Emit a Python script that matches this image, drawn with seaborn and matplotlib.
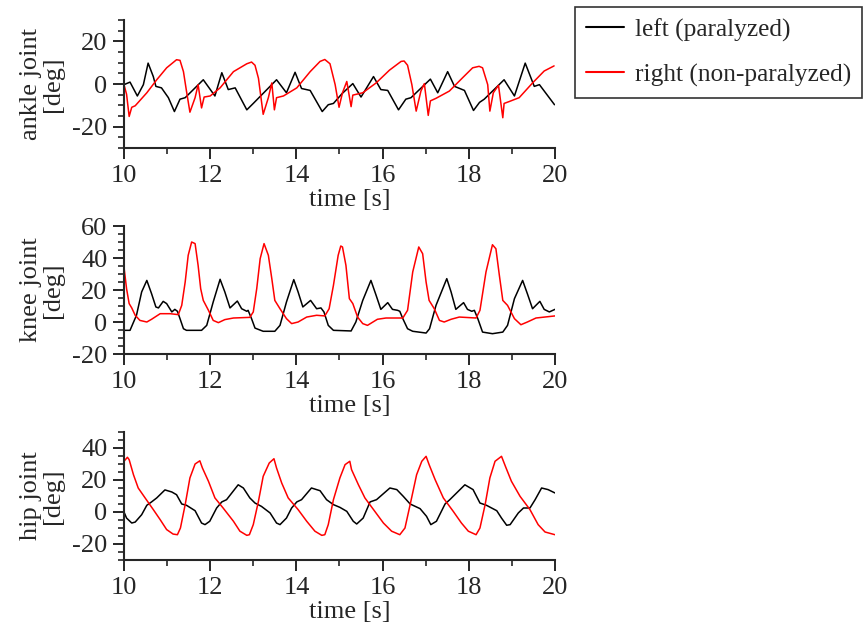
import pandas as pd
import seaborn as sns
import matplotlib.pyplot as plt
from matplotlib.ticker import MultipleLocator

# ankle joint [deg]
ankle_left_t = [10.00, 10.14, 10.31, 10.45, 10.56, 10.68, 10.74, 10.87, 11.03, 11.17, 11.30, 11.42,
                11.84, 12.11, 12.27, 12.42, 12.58, 12.85, 13.00, 13.54, 13.77, 13.97, 14.12, 14.32,
                14.60, 14.74, 14.86, 15.06, 15.31, 15.50, 15.79, 15.96, 16.12, 16.37, 16.54, 16.66,
                17.11, 17.28, 17.51, 17.67, 17.90, 18.11, 18.25, 18.36, 18.82, 19.06, 19.31, 19.52,
                19.64, 19.99]
ankle_left = [-0.3, 0.9, -5.6, -0.3, 9.8, 3.5, -1.1, -1.8, -6.4, -12.9, -7.1, -6.4,
              2.0, -5.6, 5.3, -2.6, -1.8, -12.1, -9.1, 2.0, -4.1, 5.5, -2.1, -3.0,
              -12.9, -9.7, -9.1, -4.5, 0.2, -6.1, 3.5, -2.6, -3.0, -12.1, -7.1, -6.4,
              2.3, -4.1, 5.8, -1.1, -3.0, -12.4, -8.6, -7.1, 2.0, -5.6, 9.8, -1.1,
              -0.3, -9.7]
ankle_right_t = [10.00, 10.06, 10.12, 10.18, 10.26, 10.53, 10.76, 10.99, 11.22, 11.30, 11.38, 11.45,
                 11.53, 11.65, 11.72, 11.80, 11.86, 12.00, 12.23, 12.54, 12.85, 12.96, 13.04, 13.12,
                 13.23, 13.35, 13.43, 13.49, 13.54, 13.70, 14.01, 14.32, 14.55, 14.66, 14.78, 14.90,
                 14.99, 15.07, 15.17, 15.27, 15.31, 15.54, 15.85, 16.16, 16.43, 16.50, 16.58, 16.68,
                 16.78, 16.89, 16.97, 17.06, 17.11, 17.24, 17.55, 17.86, 18.09, 18.24, 18.32, 18.44,
                 18.49, 18.57, 18.69, 18.79, 18.82, 18.94, 19.17, 19.48, 19.75, 19.98]
ankle_right = [-0.3, -4.8, -15.2, -10.9, -10.2, -4.1, 2.0, 7.6, 11.4, 11.1, 5.8, -3.3,
               -13.2, -6.4, -0.3, -11.2, -6.1, -5.6, -1.8, 5.8, 9.5, 10.3, 8.8, 2.7,
               -14.2, -6.4, 0.5, -12.1, -6.4, -5.6, -1.8, 5.8, 10.6, 11.5, 9.5, -0.3,
               -10.9, -4.1, 1.2, -10.6, -5.2, -4.1, 0.5, 6.5, 10.6, 10.8, 8.8, -0.3,
               -12.7, -3.3, 0.2, -14.7, -7.9, -6.7, -3.3, 3.0, 7.6, 8.3, 7.6, -0.3,
               -12.7, -4.1, -0.6, -15.8, -9.1, -8.2, -6.4, 0.5, 6.1, 8.5]

# knee joint [deg]
knee_left_t = [10.00, 10.14, 10.29, 10.41, 10.53, 10.64, 10.74, 10.80, 10.91, 10.99, 11.11, 11.18,
               11.24, 11.30, 11.38, 11.45, 11.80, 11.92, 12.07, 12.23, 12.34, 12.46, 12.63, 12.73,
               12.85, 12.88, 12.96, 13.04, 13.23, 13.50, 13.62, 13.77, 13.94, 14.04, 14.15, 14.33,
               14.47, 14.57, 14.64, 14.74, 14.86, 15.27, 15.38, 15.54, 15.73, 15.85, 15.96, 16.12,
               16.23, 16.35, 16.40, 16.47, 16.58, 16.70, 17.01, 17.09, 17.24, 17.49, 17.59, 17.70,
               17.88, 17.97, 18.07, 18.13, 18.21, 18.32, 18.55, 18.79, 18.90, 19.06, 19.25, 19.36,
               19.48, 19.65, 19.75, 19.87, 20.00]
knee_left = [-5.2, -5.2, 4.2, 18.8, 26.0, 17.7, 9.4, 8.8, 12.9, 11.5, 6.3, 7.9,
             6.7, 2.1, -4.2, -5.2, -5.2, -2.1, 12.5, 26.7, 18.8, 8.8, 13.1, 8.3,
             6.7, 7.3, 2.1, -3.8, -5.8, -5.8, -2.1, 12.5, 26.5, 18.8, 9.4, 13.5,
             8.3, 8.8, 6.3, -2.1, -5.2, -5.6, 0.0, 13.5, 26.0, 16.7, 7.9, 12.1,
             7.9, 7.3, 6.7, 2.1, -4.2, -5.8, -6.9, -4.2, 10.4, 27.1, 18.8, 7.9,
             12.1, 7.9, 6.7, 7.3, 2.1, -6.3, -7.3, -6.3, -2.1, 14.6, 26.0, 17.7,
             8.3, 12.9, 7.9, 6.3, 7.9]
knee_right_t = [10.00, 10.06, 10.12, 10.18, 10.26, 10.37, 10.53, 10.64, 10.84, 11.07, 11.26, 11.34,
                11.42, 11.49, 11.57, 11.65, 11.72, 11.78, 11.84, 11.96, 12.07, 12.19, 12.34, 12.54,
                12.92, 13.00, 13.08, 13.16, 13.25, 13.35, 13.43, 13.50, 13.62, 13.77, 13.89, 14.04,
                14.24, 14.47, 14.66, 14.76, 14.86, 14.97, 15.03, 15.07, 15.15, 15.23, 15.31, 15.42,
                15.54, 15.65, 15.88, 16.08, 16.47, 16.58, 16.70, 16.84, 16.93, 17.01, 17.08, 17.20,
                17.32, 17.43, 17.59, 17.78, 18.17, 18.26, 18.40, 18.55, 18.63, 18.71, 18.79, 18.90,
                19.06, 19.21, 19.36, 19.56, 20.00]
knee_right = [34.4, 20.8, 11.5, 8.8, 4.2, 1.0, 0.0, 1.7, 5.2, 5.2, 4.6, 10.4,
              25.0, 41.7, 50.0, 49.0, 35.4, 20.8, 13.5, 7.3, 1.0, -0.4, 1.5, 2.5,
              2.9, 6.3, 20.8, 39.6, 49.0, 41.7, 27.1, 13.5, 8.3, 2.1, -1.0, 0.0,
              3.1, 4.2, 3.8, 8.3, 22.9, 41.7, 47.5, 46.9, 35.4, 14.6, 11.5, 3.1,
              -1.0, -2.1, 1.7, 2.5, 2.5, 7.3, 31.3, 46.9, 42.7, 25.0, 13.5, 8.3,
              1.0, 0.0, 1.7, 3.1, 2.5, 7.3, 31.3, 48.3, 45.8, 29.2, 13.5, 10.4,
              2.1, -1.7, 0.0, 2.5, 3.8]

# hip joint [deg]
hip_left_t = [10.00, 10.06, 10.18, 10.26, 10.41, 10.53, 10.64, 10.76, 10.95, 11.11, 11.22, 11.34,
              11.45, 11.65, 11.80, 11.88, 11.99, 12.15, 12.27, 12.38, 12.65, 12.77, 12.92, 13.04,
              13.19, 13.39, 13.54, 13.62, 13.77, 13.89, 14.01, 14.12, 14.35, 14.55, 14.70, 14.86,
              15.01, 15.17, 15.32, 15.40, 15.55, 15.71, 15.86, 16.17, 16.33, 16.48, 16.64, 16.87,
              17.02, 17.12, 17.25, 17.45, 17.56, 17.91, 18.10, 18.26, 18.41, 18.65, 18.76, 18.88,
              18.96, 19.15, 19.27, 19.42, 19.54, 19.69, 19.84, 20.00]
hip_left = [0.0, -3.8, -6.9, -6.3, -1.7, 4.2, 6.3, 8.8, 13.8, 12.5, 10.8, 5.0,
            4.2, 0.8, -6.9, -7.9, -5.8, 2.5, 6.3, 7.7, 17.0, 15.0, 8.8, 5.6,
            3.5, -0.6, -6.9, -7.9, -3.8, 2.5, 6.3, 7.7, 15.0, 13.3, 7.7, 4.6,
            2.9, 0.4, -5.8, -7.5, -3.8, 6.3, 7.7, 15.0, 14.0, 9.8, 5.0, 2.1,
            -2.7, -7.9, -5.8, 5.0, 7.7, 17.0, 14.0, 5.6, 4.2, 0.8, -3.8, -8.3,
            -7.9, -0.6, 2.5, 2.5, 7.7, 15.0, 14.0, 11.9]
hip_right_t = [10.00, 10.08, 10.12, 10.22, 10.33, 10.49, 10.68, 10.84, 10.99, 11.14, 11.24, 11.31,
               11.42, 11.53, 11.65, 11.76, 11.82, 11.96, 12.11, 12.30, 12.54, 12.69, 12.85, 12.91,
               13.00, 13.12, 13.23, 13.37, 13.48, 13.54, 13.66, 13.81, 14.04, 14.24, 14.43, 14.59,
               14.66, 14.74, 14.86, 15.01, 15.13, 15.24, 15.28, 15.44, 15.59, 15.79, 16.02, 16.21,
               16.40, 16.52, 16.64, 16.79, 16.91, 17.01, 17.08, 17.22, 17.41, 17.64, 17.83, 17.99,
               18.17, 18.26, 18.38, 18.49, 18.61, 18.76, 18.86, 18.99, 19.19, 19.42, 19.61, 19.77,
               20.00]
hip_right = [31.7, 34.2, 32.7, 23.3, 15.0, 8.8, 1.5, -4.8, -11.0, -13.8, -14.2, -10.0,
             4.6, 21.3, 30.0, 32.0, 27.5, 19.2, 8.8, 2.5, -5.8, -12.0, -14.6, -14.2,
             -7.9, 6.7, 22.3, 30.6, 33.3, 27.5, 18.1, 8.8, 1.5, -5.8, -12.0, -14.6,
             -14.2, -7.9, 7.7, 21.3, 29.6, 31.7, 26.5, 17.0, 8.8, 1.5, -6.9, -12.0,
             -14.2, -10.0, 4.6, 23.3, 31.7, 34.8, 29.6, 20.2, 8.8, 0.4, -6.9, -12.0,
             -14.2, -10.0, 4.6, 21.3, 31.7, 34.8, 27.9, 19.2, 9.8, 1.5, -7.9, -12.5,
             -14.2]

sides = ['left (paralyzed)', 'right (non-paralyzed)']
colors = {'left (paralyzed)': 'black', 'right (non-paralyzed)': 'red'}

panels = [
    ('ankle joint\n[deg]', ankle_left_t, ankle_left, ankle_right_t, ankle_right, (-30, 30), [-20, 0, 20]),
    ('knee joint\n[deg]', knee_left_t, knee_left, knee_right_t, knee_right, (-20, 60), [-20, 0, 20, 40, 60]),
    ('hip joint\n[deg]', hip_left_t, hip_left, hip_right_t, hip_right, (-30, 50), [-20, 0, 20, 40]),
]

sns.set_style('ticks')
plt.rcParams['font.family'] = ['Liberation Serif', 'DejaVu Serif']
plt.rcParams['axes.unicode_minus'] = False

fig = plt.figure(figsize=(8.64, 6.28), dpi=100)
bottoms = [0.7643, 0.4363, 0.1083]

for i, (ylab, lt, lv, rt, rv, ylim, yticks) in enumerate(panels):
    ax = fig.add_axes([0.1435, bottoms[i], 0.4988, 0.2038])
    df = pd.concat([
        pd.DataFrame({'time': lt, 'deg': lv, 'side': sides[0]}),
        pd.DataFrame({'time': rt, 'deg': rv, 'side': sides[1]}),
    ])
    sns.lineplot(data=df, x='time', y='deg', hue='side', palette=colors,
                 estimator=None, sort=False, linewidth=1.1, ax=ax, legend=(i == 0))
    if i == 0:
        handles, labels = ax.get_legend_handles_labels()
        ax.get_legend().remove()
    ax.set_xlim(10, 20)
    ax.set_ylim(*ylim)
    ax.set_xticks([10, 12, 14, 16, 18, 20])
    ax.xaxis.set_minor_locator(MultipleLocator(1))
    ax.set_yticks(yticks)
    ax.yaxis.set_minor_locator(MultipleLocator(5))
    ax.tick_params(which='major', length=8, width=1.4, labelsize=19, pad=4)
    ax.tick_params(which='minor', length=4.5, width=1.2)
    ax.set_xlabel('time [s]', fontsize=19, labelpad=2, x=0.525)
    ax.set_ylabel(ylab, fontsize=19, linespacing=1.0, labelpad=6)
    sns.despine(ax=ax)
    for s in ['left', 'bottom']:
        ax.spines[s].set_linewidth(1.5)

leg = fig.legend(handles, labels, loc='upper right', bbox_to_anchor=(0.998, 0.989),
                 borderaxespad=0, fontsize=18.3, frameon=True, fancybox=False,
                 edgecolor='black', handlelength=1.5, handletextpad=0.4,
                 labelspacing=0.85, borderpad=0.45)
leg.get_frame().set_linewidth(1.2)
for line in leg.get_lines():
    line.set_linewidth(1.5)

fig.savefig('out.png', dpi=100)
